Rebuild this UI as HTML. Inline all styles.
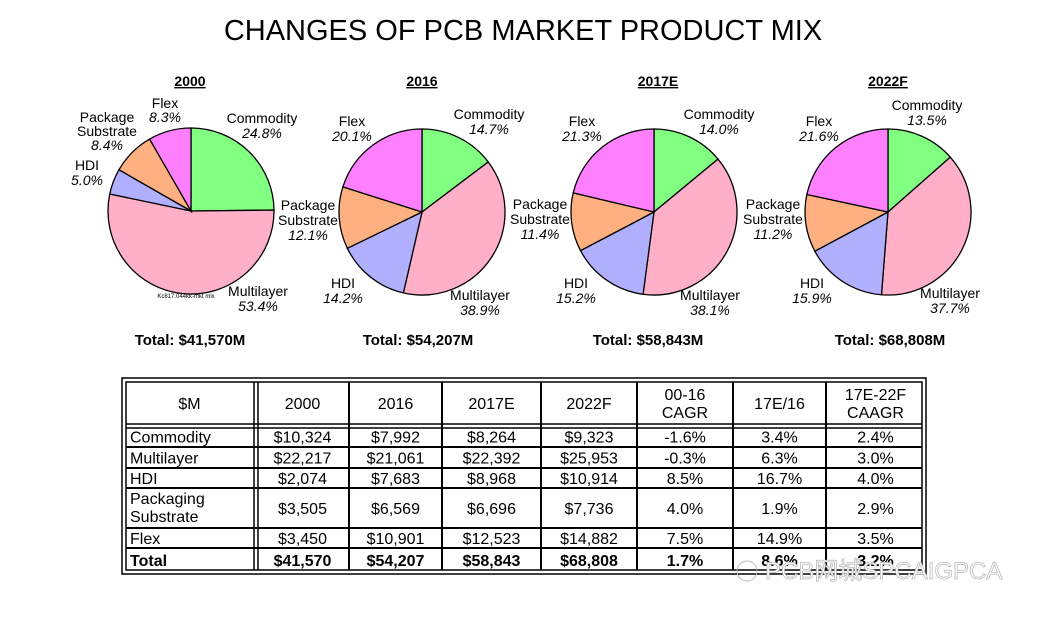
<!DOCTYPE html>
<html><head><meta charset="utf-8"><style>
body{margin:0;background:#fff;}
svg text{font-family:"Liberation Sans","Noto Sans CJK SC",sans-serif;}
</style></head><body>
<svg id="s" width="1052" height="615" xmlns="http://www.w3.org/2000/svg">
<rect width="1052" height="615" fill="#fff"/>
<text x="523" y="40" font-size="29" text-anchor="middle">CHANGES OF PCB MARKET PRODUCT MIX</text>
<g id="pies"></g>
<g font-size="14" fill="#000">
<text x="190" y="86" font-weight="bold" text-anchor="middle" text-decoration="underline">2000</text>
<text x="165" y="108" text-anchor="middle">Flex</text><text x="165" y="122" text-anchor="middle" font-style="italic">8.3%</text>
<text x="107" y="122" text-anchor="middle">Package</text><text x="107" y="136" text-anchor="middle">Substrate</text><text x="107" y="150" text-anchor="middle" font-style="italic">8.4%</text>
<text x="87" y="170" text-anchor="middle">HDI</text><text x="87" y="185" text-anchor="middle" font-style="italic">5.0%</text>
<text x="262" y="123" text-anchor="middle">Commodity</text><text x="262" y="138" text-anchor="middle" font-style="italic">24.8%</text>
<text x="258" y="296" text-anchor="middle">Multilayer</text><text x="258" y="311" text-anchor="middle" font-style="italic">53.4%</text>
<text x="186" y="298" font-size="6" text-anchor="middle">Kc817.044kk-mkt mix</text>
<text x="190" y="345" font-weight="bold" font-size="15" text-anchor="middle">Total: $41,570M</text>
<text x="422" y="86" font-weight="bold" text-anchor="middle" text-decoration="underline">2016</text>
<text x="352" y="126" text-anchor="middle">Flex</text><text x="352" y="141" text-anchor="middle" font-style="italic">20.1%</text>
<text x="489" y="119" text-anchor="middle">Commodity</text><text x="489" y="134" text-anchor="middle" font-style="italic">14.7%</text>
<text x="308" y="210" text-anchor="middle">Package</text><text x="308" y="225" text-anchor="middle">Substrate</text><text x="308" y="240" text-anchor="middle" font-style="italic">12.1%</text>
<text x="343" y="288" text-anchor="middle">HDI</text><text x="343" y="303" text-anchor="middle" font-style="italic">14.2%</text>
<text x="480" y="300" text-anchor="middle">Multilayer</text><text x="480" y="315" text-anchor="middle" font-style="italic">38.9%</text>
<text x="418" y="345" font-weight="bold" font-size="15" text-anchor="middle">Total: $54,207M</text>
<text x="658" y="86" font-weight="bold" text-anchor="middle" text-decoration="underline">2017E</text>
<text x="582" y="126" text-anchor="middle">Flex</text><text x="582" y="141" text-anchor="middle" font-style="italic">21.3%</text>
<text x="719" y="119" text-anchor="middle">Commodity</text><text x="719" y="134" text-anchor="middle" font-style="italic">14.0%</text>
<text x="540" y="209" text-anchor="middle">Package</text><text x="540" y="224" text-anchor="middle">Substrate</text><text x="540" y="239" text-anchor="middle" font-style="italic">11.4%</text>
<text x="576" y="288" text-anchor="middle">HDI</text><text x="576" y="303" text-anchor="middle" font-style="italic">15.2%</text>
<text x="710" y="300" text-anchor="middle">Multilayer</text><text x="710" y="315" text-anchor="middle" font-style="italic">38.1%</text>
<text x="648" y="345" font-weight="bold" font-size="15" text-anchor="middle">Total: $58,843M</text>
<text x="888" y="86" font-weight="bold" text-anchor="middle" text-decoration="underline">2022F</text>
<text x="819" y="126" text-anchor="middle">Flex</text><text x="819" y="141" text-anchor="middle" font-style="italic">21.6%</text>
<text x="927" y="110" text-anchor="middle">Commodity</text><text x="927" y="125" text-anchor="middle" font-style="italic">13.5%</text>
<text x="773" y="209" text-anchor="middle">Package</text><text x="773" y="224" text-anchor="middle">Substrate</text><text x="773" y="239" text-anchor="middle" font-style="italic">11.2%</text>
<text x="812" y="288" text-anchor="middle">HDI</text><text x="812" y="303" text-anchor="middle" font-style="italic">15.9%</text>
<text x="950" y="298" text-anchor="middle">Multilayer</text><text x="950" y="313" text-anchor="middle" font-style="italic">37.7%</text>
<text x="890" y="345" font-weight="bold" font-size="15" text-anchor="middle">Total: $68,808M</text>
</g>
<g id="tbl" stroke="#000" fill="none"></g>
<g id="ttx" font-size="16" fill="#000"></g>
<text x="765" y="579" font-size="24" fill="#fff" stroke="#bbb" stroke-width="0.8">PCB网城SPCAIGPCA</text>
<circle cx="747" cy="571" r="10" fill="none" stroke="#bbb"/>
</svg>
<script>
var NS="http://www.w3.org/2000/svg";
function el(p,t,a,txt){var e=document.createElementNS(NS,t);for(var k in a)e.setAttribute(k,a[k]);if(txt!=null)e.textContent=txt;p.appendChild(e);return e;}
var cols=["#80ff80","#ffb0c8","#b0b0ff","#ffb080","#ff80ff"];
var data=[[191,211,[24.8,53.4,5.0,8.4,8.3]],[422,212,[14.7,38.9,14.2,12.1,20.1]],[654,212,[14.0,38.1,15.2,11.4,21.3]],[888,212,[13.5,37.7,15.9,11.2,21.6]]];
var pg=document.getElementById("pies"),r=83;
data.forEach(function(d){var cx=d[0],cy=d[1],v=d[2],tot=v.reduce(function(a,b){return a+b}),a=0;
v.forEach(function(x,i){var a0=a/tot*2*Math.PI;a+=x;var a1=a/tot*2*Math.PI;
var x0=cx+r*Math.sin(a0),y0=cy-r*Math.cos(a0),x1=cx+r*Math.sin(a1),y1=cy-r*Math.cos(a1);
el(pg,"path",{d:"M"+cx+","+cy+"L"+x0+","+y0+"A"+r+","+r+" 0 "+((a1-a0)>Math.PI?1:0)+" 1 "+x1+","+y1+"Z",fill:cols[i],stroke:"#000","stroke-width":1.3});});});
var tg=document.getElementById("tbl"),tx=document.getElementById("ttx");
var X=[123,256,349,442,541,637,733,826,925],Y=[379,426,447,468,488,528,548,572];
el(tg,"rect",{x:122,y:378,width:804,height:196,"stroke-width":1.5});
el(tg,"rect",{x:126,y:382,width:796,height:188,"stroke-width":1.5});
for(var i=1;i<8;i++){if(i==1){el(tg,"line",{x1:X[1]-2,y1:382,x2:X[1]-2,y2:570,"stroke-width":1.5});el(tg,"line",{x1:X[1]+2,y1:382,x2:X[1]+2,y2:570,"stroke-width":1.5});}else el(tg,"line",{x1:X[i],y1:382,x2:X[i],y2:570,"stroke-width":2});}
for(var j=1;j<7;j++){if(j==1){el(tg,"line",{x1:126,y1:Y[1]-2,x2:922,y2:Y[1]-2,"stroke-width":1.5});el(tg,"line",{x1:126,y1:Y[1]+2,x2:922,y2:Y[1]+2,"stroke-width":1.5});}else el(tg,"line",{x1:126,y1:Y[j],x2:922,y2:Y[j],"stroke-width":2});}
var hdr=[["$M"],["2000"],["2016"],["2017E"],["2022F"],["00-16","CAGR"],["17E/16"],["17E-22F","CAAGR"]];
hdr.forEach(function(h,i){var c=(X[i]+X[i+1])/2;if(h.length==1)el(tx,"text",{x:c,y:409,"text-anchor":"middle"},h[0]);else{el(tx,"text",{x:c,y:400,"text-anchor":"middle"},h[0]);el(tx,"text",{x:c,y:418,"text-anchor":"middle"},h[1]);}});
var rows=[["Commodity","$10,324","$7,992","$8,264","$9,323","-1.6%","3.4%","2.4%"],["Multilayer","$22,217","$21,061","$22,392","$25,953","-0.3%","6.3%","3.0%"],["HDI","$2,074","$7,683","$8,968","$10,914","8.5%","16.7%","4.0%"],["Packaging","$3,505","$6,569","$6,696","$7,736","4.0%","1.9%","2.9%"],["Flex","$3,450","$10,901","$12,523","$14,882","7.5%","14.9%","3.5%"],["Total","$41,570","$54,207","$58,843","$68,808","1.7%","8.6%","3.2%"]];
rows.forEach(function(r,j){var yc=(Y[j+1]+Y[j+2])/2+6;r.forEach(function(t,i){var a={y:yc};if(j==5)a["font-weight"]="bold";
if(i==0){a.x=130;if(j==3){a.y=504;el(tx,"text",{x:130,y:522},"Substrate");}}else{a.x=(X[i]+X[i+1])/2;a["text-anchor"]="middle";}
el(tx,"text",a,t);});});
</script>
</body></html>
